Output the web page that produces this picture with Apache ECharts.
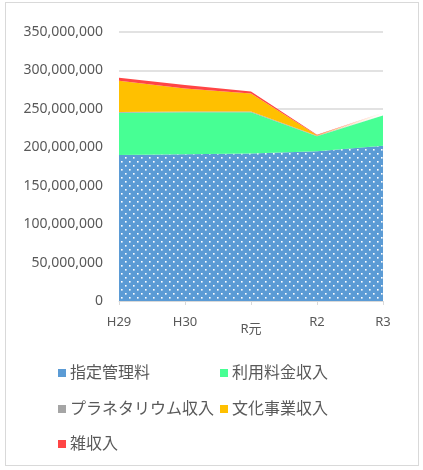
<!DOCTYPE html>
<html><head><meta charset="utf-8">
<script src="https://cdn.jsdelivr.net/npm/echarts@6/dist/echarts.min.js"></script>
<style>
html,body{margin:0;padding:0;background:#fff;}
#frame{position:absolute;left:5px;top:2px;width:414px;height:464px;border:1px solid #d9d9d9;box-sizing:border-box;}
#c{position:absolute;left:0;top:0;width:423px;height:470px;}
</style></head>
<body><div id="frame"></div><div id="c"></div>
<script>
const categories = ['H29', 'H30', 'R元', 'R2', 'R3'];
const seriesNames = ['指定管理料', '利用料金収入', 'プラネタリウム収入', '文化事業収入', '雑収入'];
const shiteiKanri = [190000000, 191000000, 192000000, 195000000, 202000000];
const riyouRyoukin = [55000000, 54500000, 53500000, 19500000, 39500000];
const planetarium = [1000000, 1000000, 1000000, 500000, 500000];
const bunkaJigyou = [40500000, 30000000, 23500000, 800000, 1500000];
const zatsuShuunyuu = [4000000, 4500000, 2500000, 500000, 1500000];
const yTicks = [0, 50000000, 100000000, 150000000, 200000000, 250000000, 300000000, 350000000];

const colors = ['#5B9BD5', '#47FF94', '#A5A5A5', '#FFC000', '#FF4545'];
const FONT = '"Noto Sans", "Noto Sans CJK JP", sans-serif';

// dotted pattern for 指定管理料
const pc = document.createElement('canvas');
pc.width = 8; pc.height = 8;
const pctx = pc.getContext('2d');
pctx.fillStyle = colors[0];
pctx.fillRect(0, 0, 8, 8);
pctx.fillStyle = '#ffffff';
pctx.fillRect(1, 1, 1.6, 1.6);
pctx.fillRect(5, 5, 1.6, 1.6);

const dataList = [shiteiKanri, riyouRyoukin, planetarium, bunkaJigyou, zatsuShuunyuu];
const series = dataList.map((d, i) => ({
  name: seriesNames[i],
  type: 'line',
  stack: 'total',
  data: d,
  showSymbol: false,
  symbol: 'none',
  lineStyle: { width: 0 },
  itemStyle: { color: colors[i] },
  areaStyle: { color: i === 0 ? { image: pc, repeat: 'repeat' } : colors[i], opacity: 1 },
  z: 2 + i
}));

const legendPos = [
  { left: 58, top: 365 },
  { left: 220, top: 365 },
  { left: 58, top: 401 },
  { left: 220, top: 401 },
  { left: 58, top: 436 }
];
const legends = seriesNames.map((n, i) => ({
  data: [{ name: n, itemStyle: { color: colors[i] } }],
  left: legendPos[i].left,
  top: legendPos[i].top,
  orient: 'horizontal',
  icon: 'rect',
  itemWidth: 8,
  itemHeight: 8,
  itemGap: 4,
  padding: 0,
  selectedMode: false,
  textStyle: { color: '#595959', fontSize: 16, fontFamily: FONT, padding: [0, 0, 0, -1] }
}));

const chart = echarts.init(document.getElementById('c'), null, { renderer: 'canvas' });
chart.setOption({
  animation: false,
  color: colors,
  legend: legends,
  grid: { left: 119, right: 40, top: 32, bottom: 169, containLabel: false },
  xAxis: {
    type: 'category',
    data: categories,
    boundaryGap: false,
    axisLine: { lineStyle: { color: '#d9d9d9', width: 1 } },
    axisTick: { show: true, alignWithLabel: true, length: 4, lineStyle: { color: '#d9d9d9' } },
    axisLabel: {
      color: '#595959', fontSize: 13, fontFamily: FONT, margin: 15,
      formatter: v => v === 'R元' ? '{d|' + v + '}' : v,
      rich: { d: { color: '#595959', fontSize: 13, fontFamily: FONT, padding: [7, 0, 0, 0] } }
    },
    splitLine: { show: false },
    z: 10
  },
  yAxis: {
    type: 'value',
    min: 0,
    max: 350000000,
    interval: 50000000,
    axisLine: { show: false },
    axisTick: { show: false },
    axisLabel: {
      color: '#595959', fontSize: 14, fontFamily: FONT, margin: 16,
      formatter: v => v.toLocaleString('en-US')
    },
    splitLine: { lineStyle: { color: '#d9d9d9', width: 1.5 } }
  },
  series: series
});
</script>
</body></html>
